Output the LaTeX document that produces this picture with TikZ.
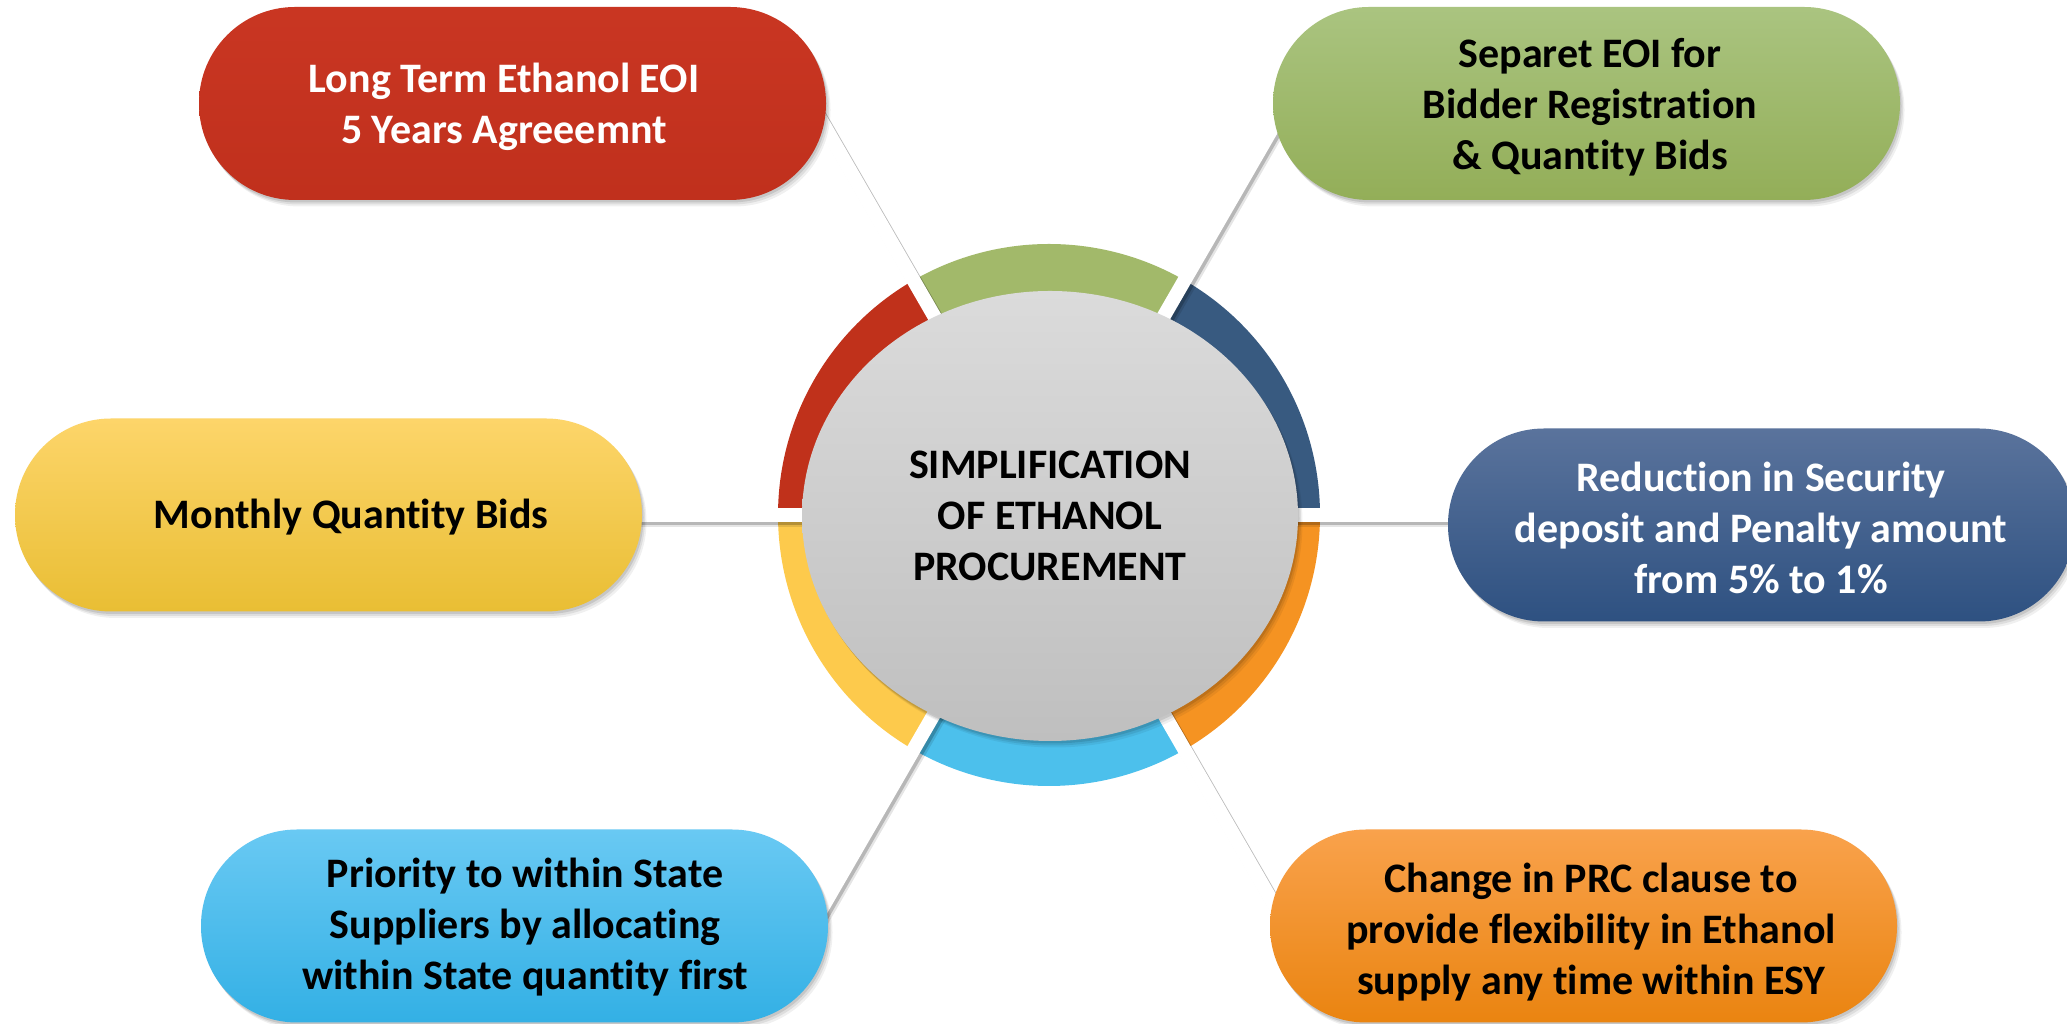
\documentclass[tikz,border=0pt]{standalone}
\usepackage{fontspec}
\setmainfont{Carlito}[Ligatures=NoCommon]
\usetikzlibrary{shapes.geometric,shadows,calc}
\definecolor{redP}{HTML}{C8321E}
\definecolor{redR}{HTML}{C0311B}
\definecolor{greenT}{HTML}{AAC480}
\definecolor{greenB}{HTML}{93AE58}
\definecolor{greenR}{HTML}{A2B96A}
\definecolor{yelT}{HTML}{FDD56A}
\definecolor{yelB}{HTML}{E9BE34}
\definecolor{yelR}{HTML}{FDCA4C}
\definecolor{dbT}{HTML}{5A739C}
\definecolor{dbB}{HTML}{2E5181}
\definecolor{dbR}{HTML}{385A80}
\definecolor{lbT}{HTML}{69C9F3}
\definecolor{lbB}{HTML}{33B0E5}
\definecolor{lbR}{HTML}{4CC0EC}
\definecolor{orT}{HTML}{F9A24C}
\definecolor{orB}{HTML}{EA8410}
\definecolor{orR}{HTML}{F59322}
\definecolor{hubT}{HTML}{DBDBDB}
\definecolor{hubB}{HTML}{BFBFBF}
\begin{document}
\begin{tikzpicture}[x=1pt,y=1pt,
  softshadow/.style={
    drop shadow={opacity=0.10, fill=black, shadow xshift=1.5pt, shadow yshift=-2.5pt},
    drop shadow={opacity=0.08, fill=black, shadow xshift=3pt, shadow yshift=-4.5pt},
    drop shadow={opacity=0.06, fill=black, shadow xshift=4.5pt, shadow yshift=-6.5pt}},
  pill/.style={rectangle, rounded corners=96pt, minimum width=627pt, minimum height=193pt,
    inner sep=0pt, draw=none, softshadow},
  ptext/.style={align=center, font=\fontsize{42}{51}\selectfont\bfseries, inner sep=0pt},
  bar/.style={line width=14pt, draw=white,
    preaction={draw=black, opacity=0.20, line width=14pt, transform canvas={shift={(2.5pt,-3pt)}}},
    preaction={draw=black, opacity=0.10, line width=14pt, transform canvas={shift={(4pt,-5pt)}}}}
]
\fill[white] (0,0) rectangle (2067,1024);
\useasboundingbox (0,0) rectangle (2067,1024);

\coordinate (O) at (1049,509);
% ring sectors
\fill[greenR] (O) -- ++(60:271pt) arc[start angle=60, end angle=120, radius=271pt] -- cycle;
\fill[redR] (O) -- ++(120:271pt) arc[start angle=120, end angle=180, radius=271pt] -- cycle;
\fill[yelR] (O) -- ++(180:271pt) arc[start angle=180, end angle=240, radius=271pt] -- cycle;
\fill[lbR] (O) -- ++(240:271pt) arc[start angle=240, end angle=300, radius=271pt] -- cycle;
\fill[orR] (O) -- ++(300:271pt) arc[start angle=300, end angle=360, radius=271pt] -- cycle;
\fill[dbR] (O) -- ++(0:271pt) arc[start angle=0, end angle=60, radius=271pt] -- cycle;

% bar end points
\coordinate (e0) at ($(O)+(0:540pt)$);
\coordinate (e1) at ($(O)+(60:540pt)$);
\coordinate (e2) at ($(O)+(120:540pt)$);
\coordinate (e3) at ($(O)+(180:540pt)$);
\coordinate (e4) at ($(O)+(240:540pt)$);
\coordinate (e5) at ($(O)+(300:540pt)$);
\foreach \e in {e0,e1,e2,e3,e4,e5} { \draw[bar] (O) -- (\e); }

% hub
\node[ellipse, minimum width=496pt, minimum height=450pt, inner sep=0pt,
  top color=hubT, bottom color=hubB, softshadow,
  align=center, font=\fontsize{42}{51}\selectfont\bfseries] (hub) at (1050,508)
  {SIMPLIFICATION\\OF ETHANOL\\PROCUREMENT};

% pills
\node[pill, top color=redP!98!white, bottom color=redP!96!black] (pRed) at (512.5,920.5) {};
\node[pill, top color=greenT, bottom color=greenB] (pGreen) at (1586.5,920.5) {};
\node[pill, top color=yelT, bottom color=yelB] (pYel) at (328.5,509) {};
\node[pill, top color=dbT, bottom color=dbB] (pDb) at (1761.5,499) {};
\node[pill, top color=lbT, bottom color=lbB] (pLb) at (514.5,98) {};
\node[pill, top color=orT, bottom color=orB] (pOr) at (1583.5,98) {};

% texts
\node[ptext, text=white] (tRed) at (504,917) {Long Term Ethanol EOI\\5 Years Agreeemnt};
\node[ptext, text=black] (tGreen) at (1590,917) {Separet EOI for\\Bidder Registration\\\& Quantity Bids};
\node[ptext, text=black] (tYel) at (351,506.5) {Monthly Quantity Bids};
\node[ptext, text=white] (tDb) at (1761,495.7) {Reduction in Security\\deposit and Penalty amount\\from 5\% to 1\%};
\node[ptext, text=black] (tLb) at (525,96.5) {Priority to within State\\Suppliers by allocating\\within State quantity first};
\node[ptext, text=black] (tOr) at (1591,91.5) {Change in PRC clause to\\provide flexibility in Ethanol\\supply any time within ESY};
\end{tikzpicture}
\end{document}
